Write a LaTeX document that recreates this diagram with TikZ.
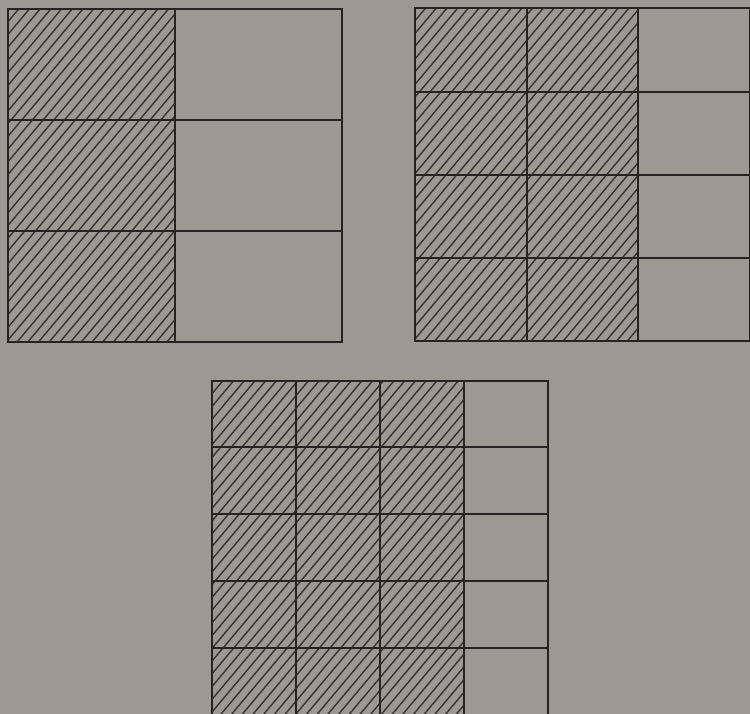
\documentclass[tikz,border=0pt]{standalone}
\definecolor{bg}{HTML}{9C9992}
\definecolor{ink}{HTML}{262321}
\newcommand\hatchbox[4]{%
  \begin{scope}
    \clip (#1,#2) rectangle (#3,#4);
    \pgfmathsetmacro\hrun{(#4-#2)/1.19}
    \foreach \k in {0,...,110} {
      \pgfmathsetmacro\cc{#1-\hrun+\k*10.7}
      \draw[hatch] (\cc,#4) -- (\cc+\hrun,#2);
    }
  \end{scope}}
\begin{document}
\begin{tikzpicture}[x=1pt,y=-1pt,
  gridline/.style={line width=1.8pt, draw=ink, line cap=rect},
  hatch/.style={line width=1.4pt, draw=ink!92}]
\fill[bg] (0,0) rectangle (750,714);
\useasboundingbox (0,0) rectangle (750,714);
% grid 1: 2 columns x 3 rows
\hatchbox{8}{9}{175}{342}
\draw[gridline] (8,9) rectangle (342,342);
\draw[gridline] (175,9) -- (175,342);
\draw[gridline] (8,120) -- (342,120);
\draw[gridline] (8,231) -- (342,231);
% grid 2: 3 columns x 4 rows
\hatchbox{415}{8}{638}{341}
\draw[gridline] (415,8) rectangle (749.5,341);
\foreach \x in {527,638} \draw[gridline] (\x,8) -- (\x,341);
\foreach \y in {92,175,258} \draw[gridline] (415,\y) -- (749.5,\y);
% grid 3: 4 columns x 5 rows
\hatchbox{212}{381}{464}{720}
\draw[gridline] (212,720) -- (212,381) -- (548,381) -- (548,720);
\foreach \x in {296,380,464} \draw[gridline] (\x,381) -- (\x,720);
\foreach \y in {447,514,581,648} \draw[gridline] (212,\y) -- (548,\y);
\end{tikzpicture}
\end{document}
